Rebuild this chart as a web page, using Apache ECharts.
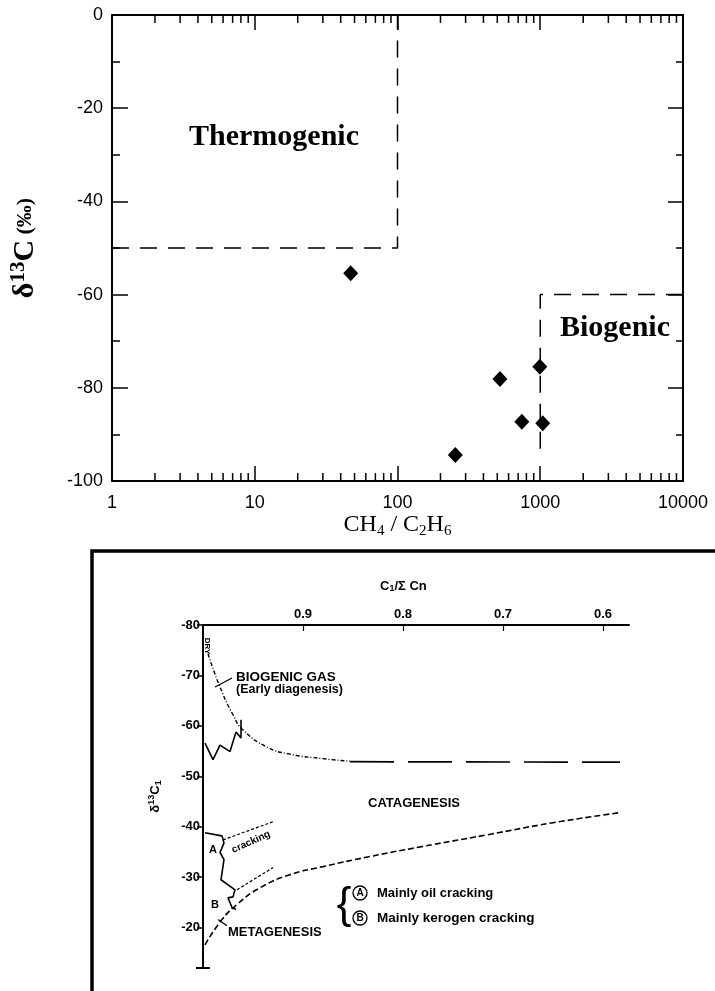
<!DOCTYPE html>
<html>
<head>
<meta charset="utf-8">
<script src="https://cdn.jsdelivr.net/npm/echarts@6/dist/echarts.min.js"></script>
<style>
html,body{margin:0;padding:0;background:#fff;}
#main{width:715px;height:991px;}
</style>
</head>
<body>
<div id="main"></div>
<script>
// upper plot: CH4/C2H6 vs d13C
var ratio = [47, 254, 522, 743, 993, 1041];
var d13c = [-55.4, -94.4, -78.1, -87.3, -75.5, -87.6];
var thermoX = [1, 100, 100];
var thermoY = [-50, -50, 0];
var bioX = [10000, 1000, 1000];
var bioY = [-60, -60, -94];
var ratioTicks = [1, 10, 100, 1000, 10000];

// lower plot: C1/sum Cn vs d13C1
var c1Ticks = [0.9, 0.8, 0.7, 0.6];
var c1d13Ticks = [-80, -70, -60, -50, -40, -30, -20];
var bioCurveX = [0.995, 0.983, 0.97, 0.96, 0.936, 0.913, 0.88, 0.853];
var bioCurveY = [-74.3, -67.7, -62.2, -59.2, -55.8, -54.4, -53.5, -53.0];
var bioFlatX = [0.853, 0.583];
var bioFlatY = [-52.9, -52.8];
var metaCurveX = [0.998, 0.981, 0.966, 0.943, 0.913, 0.88, 0.833, 0.783, 0.716, 0.65, 0.583];
var metaCurveY = [-16.6, -21.6, -24.6, -27.9, -30.5, -32.1, -34.1, -36.0, -38.4, -40.8, -42.8];
var zigUpX = [0.998, 0.99, 0.983, 0.973, 0.967, 0.962, 0.962];
var zigUpY = [-56.6, -53.3, -56.2, -54.9, -58.8, -57.6, -61.2];
var zigLowX = [0.998, 0.981, 0.979, 0.983, 0.979, 0.982, 0.968, 0.97, 0.975, 0.971, 0.967];
var zigLowY = [-38.8, -38.2, -36.8, -34.9, -33.5, -29.5, -27.5, -26.1, -25.9, -24.0, -23.6];
var crackAX = [0.98, 0.93];
var crackAY = [-37.4, -41.0];
var crackBX = [0.966, 0.93];
var crackBY = [-27.5, -31.9];
var bioLeadX = [0.971, 0.988];
var bioLeadY = [-69.5, -67.7];
var metaLeadX = [0.985, 0.976];
var metaLeadY = [-21.6, -20.4];

function zip(xs, ys){
	var ret = [];
	for (var i = 0; i < xs.length; i++) ret.push([xs[i], ys[i]]);
	return ret;
}
var minorX = [];
for (var d = 1; d < 10000; d *= 10){
	for (var k = 2; k <= 9; k++) minorX.push(k * d);
}

var serif = '"Liberation Serif","Times New Roman",serif';
var sans = '"Liberation Sans",Arial,sans-serif';
var axLine = {onZero: false, lineStyle: {color: '#000', width: 2}};

function lineSeries(xi, data, w, type, smooth){
	return {
		type: 'line', xAxisIndex: xi, yAxisIndex: xi, data: data,
		symbol: 'none', smooth: smooth || false, silent: true, clip: false,
		lineStyle: {color: '#000', width: w, type: type, opacity: 1}
	};
}

var myChart = echarts.init(document.getElementById('main'));
var option = {
	animation: false,
	backgroundColor: '#fff',
	grid: [
		{left: 109, top: 15, width: 574, height: 466},
		{left: 203, top: 625, width: 426, height: 343}
	],
	xAxis: [
		{
			gridIndex: 0, type: 'log', logBase: 10, min: 1, max: 10000, position: 'bottom',
			axisLine: axLine,
			axisTick: {inside: true, length: 15, lineStyle: {color: '#000', width: 1.5}},
			axisLabel: {color: '#000', fontFamily: sans, fontSize: 18, margin: 13,
				formatter: function(v){ return String(v); }},
			splitLine: {show: false},
			name: '{n|CH}{s|4}{n| / C}{s|2}{n|H}{s|6}',
			nameLocation: 'middle', nameGap: 30,
			nameTextStyle: {rich: {
				n: {fontFamily: serif, fontSize: 24, color: '#000'},
				s: {fontFamily: serif, fontSize: 15, color: '#000', padding: [12, 0, 0, 0]}
			}}
		},
		{
			gridIndex: 0, type: 'log', logBase: 10, min: 1, max: 10000, position: 'top',
			axisLine: axLine,
			axisTick: {inside: true, length: 15, lineStyle: {color: '#000', width: 1.5}},
			axisLabel: {show: false},
			splitLine: {show: false}
		},
		{
			gridIndex: 1, type: 'value', min: 0.574, max: 1.0, inverse: true, position: 'top',
			axisLine: axLine,
			axisTick: {inside: true, length: 6, customValues: c1Ticks, lineStyle: {color: '#000', width: 1.2}},
			axisLabel: {color: '#000', fontFamily: sans, fontSize: 13, fontWeight: 'bold', margin: 4,
				customValues: c1Ticks, formatter: function(v){ return v.toFixed(1); }},
			splitLine: {show: false}
		}
	],
	yAxis: [
		{
			gridIndex: 0, type: 'value', min: -100, max: 0, interval: 20, position: 'left',
			axisLine: axLine,
			axisTick: {inside: true, length: 16, lineStyle: {color: '#000', width: 1.5}},
			minorTick: {show: true, splitNumber: 2, length: 8, lineStyle: {color: '#000', width: 1.5}},
			axisLabel: {color: '#000', fontFamily: sans, fontSize: 18, margin: 9},
			splitLine: {show: false},
			name: '{a|δ}{b|13}{a|C}{c| (‰)}',
			nameLocation: 'middle', nameGap: 70, nameRotate: 90,
			nameTextStyle: {rich: {
				a: {fontFamily: serif, fontSize: 30, fontWeight: 'bold', color: '#000'},
				b: {fontFamily: serif, fontSize: 21, fontWeight: 'bold', color: '#000', padding: [0, 0, 13, 0]},
				c: {fontFamily: serif, fontSize: 22, fontWeight: 'bold', color: '#000'}
			}}
		},
		{
			gridIndex: 0, type: 'value', min: -100, max: 0, interval: 20, position: 'right',
			axisLine: axLine,
			axisTick: {inside: true, length: 15, lineStyle: {color: '#000', width: 1.5}},
			minorTick: {show: true, splitNumber: 2, length: 7, lineStyle: {color: '#000', width: 1.5}},
			axisLabel: {show: false},
			splitLine: {show: false}
		},
		{
			gridIndex: 1, type: 'value', min: -80, max: -12, inverse: true, position: 'left',
			axisLine: axLine,
			axisTick: {length: 6, customValues: c1d13Ticks, lineStyle: {color: '#000', width: 1.5}},
			axisLabel: {color: '#000', fontFamily: sans, fontSize: 13, fontWeight: 'bold', margin: 3,
				customValues: c1d13Ticks},
			splitLine: {show: false},
			name: '{a|δ}{b|13}{a|C}{s|1}',
			nameLocation: 'middle', nameGap: 40, nameRotate: 90,
			nameTextStyle: {rich: {
				a: {fontFamily: sans, fontSize: 13, fontWeight: 'bold', color: '#000'},
				b: {fontFamily: sans, fontSize: 9, fontWeight: 'bold', color: '#000', padding: [0, 0, 7, 0]},
				s: {fontFamily: sans, fontSize: 9, fontWeight: 'bold', color: '#000', padding: [7, 0, 0, 0]}
			}}
		}
	],
	series: [
		{
			type: 'custom', xAxisIndex: 0, yAxisIndex: 0, silent: true, clip: false,
			data: minorX.map(function(v){ return [v, -100]; }),
			renderItem: function(params, api){
				var v = api.value(0);
				var b = api.coord([v, -100]);
				var t = api.coord([v, 0]);
				var st = {stroke: '#000', lineWidth: 1.5};
				return {type: 'group', children: [
					{type: 'line', shape: {x1: b[0], y1: b[1], x2: b[0], y2: b[1] - 8}, style: st},
					{type: 'line', shape: {x1: t[0], y1: t[1], x2: t[0], y2: t[1] + 8}, style: st}
				]};
			}
		},
		lineSeries(0, zip(thermoX, thermoY), 1.5, [17, 11]),
		lineSeries(0, zip(bioX, bioY), 1.5, [17, 11]),
		{
			type: 'scatter', xAxisIndex: 0, yAxisIndex: 0,
			data: zip(ratio, d13c),
			symbol: 'diamond', symbolSize: [15, 16],
			itemStyle: {color: '#000', opacity: 1}
		},
		lineSeries(2, zip(bioCurveX, bioCurveY), 1.4, [4, 2, 1, 2], true),
		lineSeries(2, zip(bioFlatX, bioFlatY), 1.7, [44, 14]),
		lineSeries(2, zip(metaCurveX, metaCurveY), 1.6, [6, 3], true),
		lineSeries(2, zip(zigUpX, zigUpY), 1.6, 'solid'),
		lineSeries(2, zip(zigLowX, zigLowY), 1.6, 'solid'),
		lineSeries(2, zip(crackAX, crackAY), 1.2, [3, 2]),
		lineSeries(2, zip(crackBX, crackBY), 1.2, [3, 2]),
		lineSeries(2, zip(bioLeadX, bioLeadY), 1.2, 'solid'),
		lineSeries(2, zip(metaLeadX, metaLeadY), 1.2, 'solid'),
		{
			type: 'custom', xAxisIndex: 2, yAxisIndex: 2, silent: true, clip: false,
			data: [[1.0, -12]],
			renderItem: function(params, api){
				var p = api.coord([api.value(0), api.value(1)]);
				return {type: 'line', shape: {x1: p[0] - 7, y1: p[1], x2: p[0] + 7, y2: p[1]},
					style: {stroke: '#000', lineWidth: 2}};
			}
		}
	],
	graphic: [
		{type: 'text', x: 274, y: 137, style: {text: 'Thermogenic', font: 'bold 30px ' + serif, fill: '#000', align: 'center', verticalAlign: 'middle'}},
		{type: 'text', x: 615, y: 328, style: {text: 'Biogenic', font: 'bold 30px ' + serif, fill: '#000', align: 'center', verticalAlign: 'middle'}},
		// frame round the lower figure
		{type: 'polyline', shape: {points: [[92, 991], [92, 551], [715, 551]]}, style: {stroke: '#000', lineWidth: 3.5, fill: null}},
		{type: 'text', x: 380, y: 586, style: {text: '{a|C}{s|1}{a|/Σ Cn}', fill: '#000', verticalAlign: 'middle',
			rich: {a: {font: 'bold 13px ' + sans}, s: {font: 'bold 9px ' + sans, padding: [6, 0, 0, 0]}}}},
		{type: 'text', x: 207, y: 646, rotation: -Math.PI / 2, style: {text: 'DRY', font: 'bold 8px ' + sans, fill: '#000', align: 'center', verticalAlign: 'middle'}},
		{type: 'text', x: 236, y: 677, style: {text: 'BIOGENIC GAS', font: 'bold 13.5px ' + sans, fill: '#000', verticalAlign: 'middle'}},
		{type: 'text', x: 236, y: 690, style: {text: '(Early diagenesis)', font: 'bold 12.5px ' + sans, fill: '#000', verticalAlign: 'middle'}},
		{type: 'text', x: 368, y: 803, style: {text: 'CATAGENESIS', font: 'bold 13px ' + sans, fill: '#000', verticalAlign: 'middle'}},
		{type: 'text', x: 228, y: 932, style: {text: 'METAGENESIS', font: 'bold 13px ' + sans, fill: '#000', verticalAlign: 'middle'}},
		{type: 'text', x: 251, y: 842, rotation: 0.42, style: {text: 'cracking', font: 'bold 10px ' + sans, fill: '#000', align: 'center', verticalAlign: 'middle'}},
		{type: 'text', x: 213, y: 850, style: {text: 'A', font: 'bold 11px ' + sans, fill: '#000', align: 'center', verticalAlign: 'middle'}},
		{type: 'text', x: 215, y: 905, style: {text: 'B', font: 'bold 11px ' + sans, fill: '#000', align: 'center', verticalAlign: 'middle'}},
		{type: 'text', x: 344, y: 906, style: {text: '{', font: '44px ' + sans, fill: '#000', align: 'center', verticalAlign: 'middle'}},
		{type: 'circle', shape: {cx: 360, cy: 893, r: 7}, style: {stroke: '#000', lineWidth: 1.3, fill: null}},
		{type: 'circle', shape: {cx: 360, cy: 918, r: 7}, style: {stroke: '#000', lineWidth: 1.3, fill: null}},
		{type: 'text', x: 360, y: 893, style: {text: 'A', font: 'bold 10px ' + sans, fill: '#000', align: 'center', verticalAlign: 'middle'}},
		{type: 'text', x: 360, y: 918, style: {text: 'B', font: 'bold 10px ' + sans, fill: '#000', align: 'center', verticalAlign: 'middle'}},
		{type: 'text', x: 377, y: 893, style: {text: 'Mainly oil cracking', font: 'bold 13px ' + sans, fill: '#000', verticalAlign: 'middle'}},
		{type: 'text', x: 377, y: 918, style: {text: 'Mainly kerogen cracking', font: 'bold 13.5px ' + sans, fill: '#000', verticalAlign: 'middle'}}
	]
};
myChart.setOption(option);
</script>
</body>
</html>
